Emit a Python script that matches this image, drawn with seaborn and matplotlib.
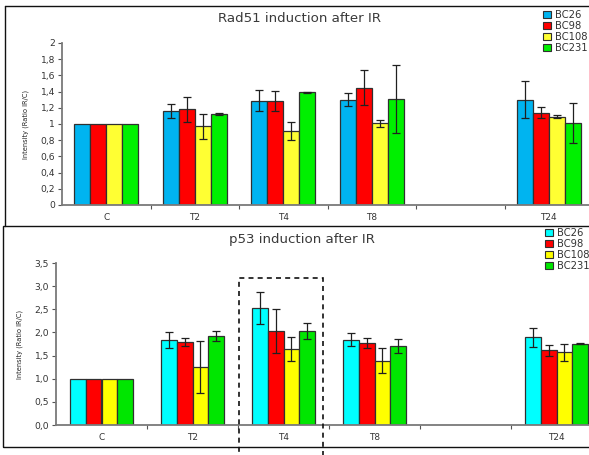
import matplotlib
matplotlib.use("Agg")
import matplotlib.pyplot as plt
import seaborn as sns
import pandas as pd
import numpy as np
from matplotlib.patches import Rectangle, Patch
from matplotlib.lines import Line2D

# ---------------- data ----------------
categories = ["C", "T2", "T4", "T8", "T24"]
slot_order = ["C", "T2", "T4", "T8", " ", "T24"]
lines_top = ["BC26", "BC98", "BC108", "BC231"]
lines_bot = ["BC26", "BC98", "BC108", "BC231"]

rad51_BC26 = [1.00, 1.16, 1.29, 1.30, 1.30]
rad51_BC98 = [1.00, 1.18, 1.28, 1.45, 1.14]
rad51_BC108 = [1.00, 0.97, 0.91, 1.01, 1.09]
rad51_BC231 = [1.00, 1.12, 1.39, 1.31, 1.01]
rad51_err_BC26 = [0.0, 0.09, 0.135, 0.08, 0.23]
rad51_err_BC98 = [0.0, 0.15, 0.125, 0.22, 0.065]
rad51_err_BC108 = [0.0, 0.15, 0.11, 0.045, 0.015]
rad51_err_BC231 = [0.0, 0.01, 0.005, 0.42, 0.245]

p53_BC26 = [1.00, 1.84, 2.53, 1.84, 1.90]
p53_BC98 = [1.00, 1.79, 2.03, 1.77, 1.61]
p53_BC108 = [1.00, 1.26, 1.64, 1.39, 1.57]
p53_BC231 = [1.00, 1.93, 2.03, 1.71, 1.76]
p53_err_BC26 = [0.0, 0.18, 0.34, 0.14, 0.205]
p53_err_BC98 = [0.0, 0.09, 0.48, 0.10, 0.12]
p53_err_BC108 = [0.0, 0.56, 0.255, 0.265, 0.18]
p53_err_BC231 = [0.0, 0.105, 0.18, 0.155, 0.01]

top_ticks = ["0", "0,2", "0,4", "0,6", "0,8", "1", "1,2", "1,4", "1,6", "1,8", "2"]
bot_ticks = ["0,0", "0,5", "1,0", "1,5", "2,0", "2,5", "3,0", "3,5"]

colors_top = ["#00B4F0", "#FF0000", "#FFFF33", "#00F000"]
colors_bot = ["#00FFFF", "#FF0000", "#FFFF00", "#00E600"]


def make_df(series, errs, names):
    rows = []
    for name, vals, er in zip(names, series, errs):
        for c, v, e in zip(categories, vals, er):
            rows.append({"time": c, "line": name, "value": v, "err": e})
    return pd.DataFrame(rows)


df_top = make_df([rad51_BC26, rad51_BC98, rad51_BC108, rad51_BC231],
                 [rad51_err_BC26, rad51_err_BC98, rad51_err_BC108, rad51_err_BC231],
                 lines_top)
df_bot = make_df([p53_BC26, p53_BC98, p53_BC108, p53_BC231],
                 [p53_err_BC26, p53_err_BC98, p53_err_BC108, p53_err_BC231],
                 lines_bot)

sns.set_theme(style="white")
plt.rcParams["font.family"] = ["DejaVu Sans"]

W, H = 589, 455
fig = plt.figure(figsize=(W / 100, H / 100), dpi=100)


def fx(px):
    return px / W


def fy(py):
    return 1 - py / H


def draw_panel(ax, df, names, colors, width, ymax, yticks, ylabels, title, title_xy, legend_xy):
    sns.barplot(data=df, x="time", y="value", hue="line", order=slot_order,
                hue_order=names, palette=colors, width=width, errorbar=None,
                saturation=1, edgecolor="#303030", linewidth=0.9, ax=ax, legend=False)
    bars = [p for p in ax.patches]
    k = 0
    for name in names:
        sub = df[df["line"] == name].set_index("time")
        for c in [s for s in slot_order if s in categories]:
            p = bars[k]
            k += 1
            e = sub.loc[c, "err"]
            if e > 0:
                ax.errorbar(p.get_x() + p.get_width() / 2, p.get_height(), yerr=e,
                            fmt="none", ecolor="#202020", elinewidth=0.9,
                            capsize=3.0, capthick=0.9)
    ax.set_xlim(-0.5, 5.5)
    ax.set_ylim(0, ymax)
    ax.set_yticks(yticks)
    ax.set_yticklabels(ylabels, fontsize=6.6, color="#333333")
    ax.set_xticks(np.arange(0.5, 5.5, 1.0))
    ax.set_xticklabels([])
    ax.set_xticks(np.arange(6), minor=True)
    ax.set_xticklabels(slot_order, minor=True, fontsize=6.4, color="#333333")
    ax.tick_params(axis="x", which="minor", length=0, pad=6)
    ax.tick_params(axis="x", which="major", length=3, width=0.8, color="#555555", direction="out", bottom=True)
    ax.tick_params(axis="y", length=3, width=0.8, color="#555555", direction="out", left=True, pad=2)
    ax.set_xlabel("")
    ax.set_ylabel("Intensity (Ratio IR/C)", fontsize=4.8, color="#222222", labelpad=8)
    for s in ["top", "right"]:
        ax.spines[s].set_visible(False)
    for s in ["left", "bottom"]:
        ax.spines[s].set_color("#7a7a7a")
        ax.spines[s].set_linewidth(1.3)
    ax.set_facecolor("none")
    fig.text(fx(title_xy[0]), fy(title_xy[1]), title, fontsize=9.6, ha="center", va="center",
             color="#3a3a3a")
    handles = [Patch(facecolor=c, edgecolor="#303030", linewidth=0.8) for c in colors]
    fig.legend(handles, names, loc="upper left", bbox_to_anchor=(fx(legend_xy[0]), fy(legend_xy[1])),
               frameon=False, fontsize=7.2, handlelength=0.75, handleheight=0.7,
               handletextpad=0.4, labelspacing=0.1, borderaxespad=0, borderpad=0,
               labelcolor="#333333")


# top axes: x 62..593, y 43..205
ax1 = fig.add_axes([fx(62), fy(205), fx(593) - fx(62), (205 - 43) / H])
draw_panel(ax1, df_top, lines_top, colors_top, 0.72, 2.0, np.arange(0, 2.01, 0.2), top_ticks,
           "Rad51 induction after IR", (300, 19), (543, 10))

# bottom axes: x 56..602, y 263..425
ax2 = fig.add_axes([fx(56), fy(425), fx(602) - fx(56), (425 - 263) / H])
draw_panel(ax2, df_bot, lines_bot, colors_bot, 0.70, 3.5, np.arange(0, 3.51, 0.5), bot_ticks,
           "p53 induction after IR", (302, 239), (545, 228))

# panel frames
fig.add_artist(Line2D([fx(5), fx(600)], [fy(6), fy(6)], color="#111111", lw=1.0))
fig.add_artist(Line2D([fx(5), fx(5)], [fy(6), fy(226)], color="#111111", lw=1.0))
fig.add_artist(Rectangle((fx(3), fy(447)), fx(650) - fx(3), (447 - 226) / H, fill=False,
                         edgecolor="#111111", lw=1.0, transform=fig.transFigure))
# dashed highlight box around T4 (p53)
fig.add_artist(Rectangle((fx(239), fy(480)), fx(323) - fx(239), (480 - 278) / H, fill=False,
                         edgecolor="#111111", lw=1.2, linestyle=(0, (3, 2.5)),
                         transform=fig.transFigure))

fig.savefig("out.png", dpi=100, facecolor="white")
